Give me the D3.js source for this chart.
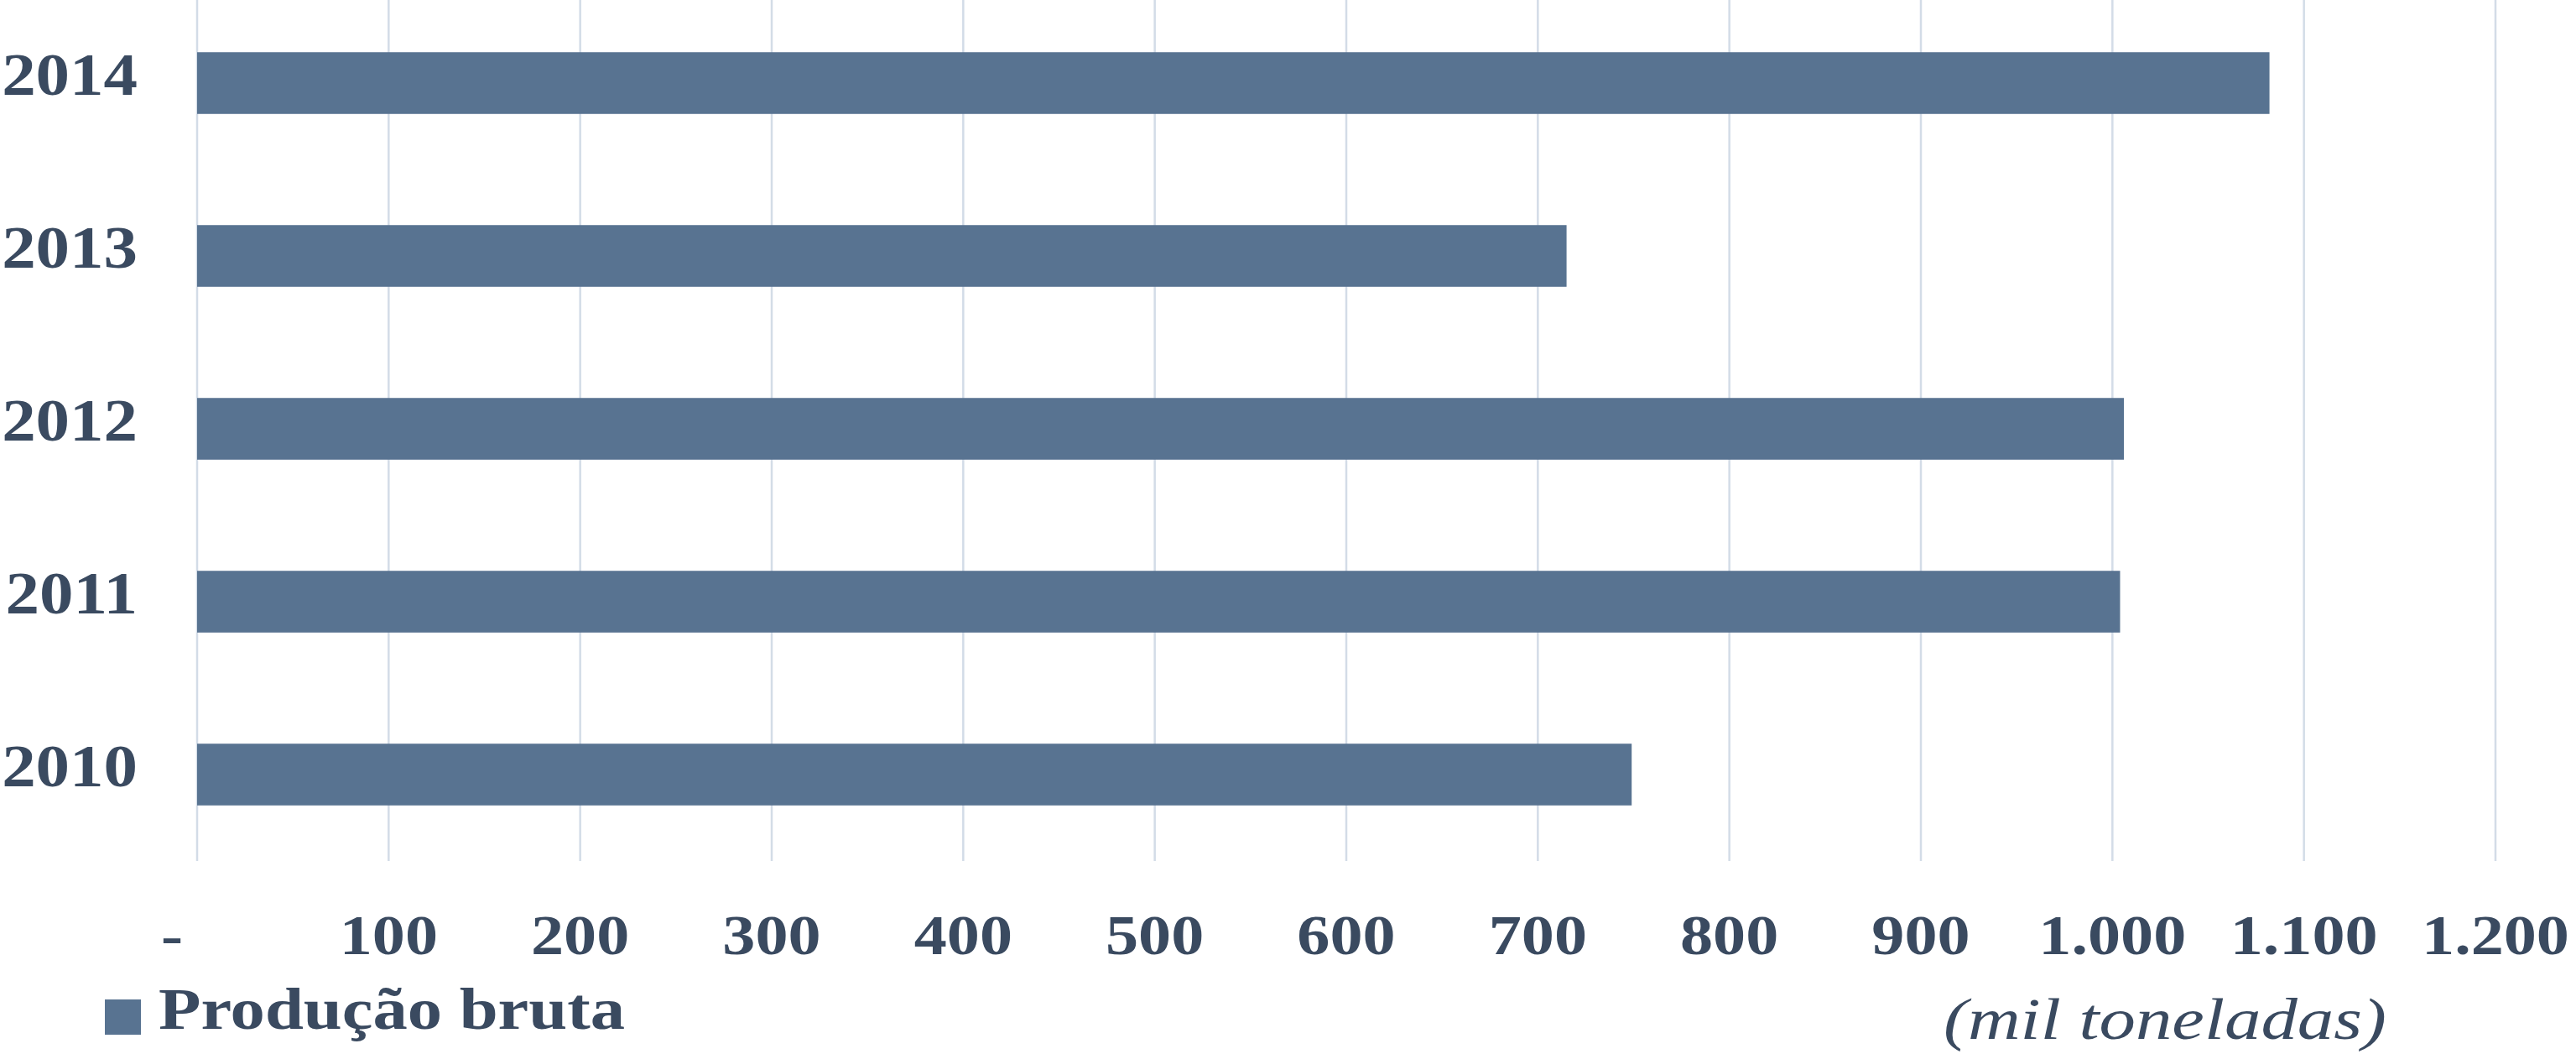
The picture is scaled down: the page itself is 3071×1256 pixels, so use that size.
<!DOCTYPE html>
<html>
<head>
<meta charset="utf-8">
<script src="https://cdn.jsdelivr.net/npm/d3@7"></script>
<style>
  html, body { margin: 0; padding: 0; background: #ffffff; }
  svg { display: block; }
</style>
</head>
<body>
<script>
// ---- data ----
const years = ["2014", "2013", "2012", "2011", "2010"];
const producaoBruta = [1082, 715, 1006, 1004, 749];
const tickValues = [0, 100, 200, 300, 400, 500, 600, 700, 800, 900, 1000, 1100, 1200];
const tickLabels = ["-", "100", "200", "300", "400", "500", "600", "700", "800", "900", "1.000", "1.100", "1.200"];
const seriesName = "Produção bruta";
const unitLabel = "(mil toneladas)";

// ---- layout ----
const W = 3071, H = 1256;
const barColor = "#587391";
const textColor = "#3a4a60";
const gridColor = "#d3dce7";
const fontFam = "'Liberation Serif', 'Times New Roman', serif";

const svg = d3.select("body").append("svg").attr("width", W).attr("height", H);

const x = d3.scaleLinear().domain([0, 1200]).range([235, 2975]);
const y = d3.scaleBand().domain(years).range([-4, 1026]).paddingInner(0.643).paddingOuter(0.3215);

// gridlines
svg.append("g").selectAll("line").data(tickValues).join("line")
  .attr("x1", d => x(d)).attr("x2", d => x(d))
  .attr("y1", 0).attr("y2", 1026)
  .attr("stroke", gridColor).attr("stroke-width", 2.5);

// bars
const rows = years.map((yr, i) => ({ year: yr, value: producaoBruta[i] }));
svg.append("g").selectAll("rect").data(rows).join("rect")
  .attr("x", x(0))
  .attr("y", d => y(d.year))
  .attr("width", d => x(d.value) - x(0))
  .attr("height", y.bandwidth())
  .attr("fill", barColor);

// year labels
svg.append("g").selectAll("text").data(years).join("text")
  .attr("transform", d => `translate(164,${y(d) + y.bandwidth() / 2 + 14}) scale(1.14,1)`)
  .attr("text-anchor", "end")
  .attr("font-family", fontFam)
  .attr("font-weight", "bold")
  .attr("font-size", 71)
  .attr("fill", textColor)
  .text(d => d);

// x tick labels
svg.append("g").selectAll("text").data(tickValues).join("text")
  .attr("transform", (d, i) => `translate(${x(d) + (i === 0 ? -30 : 0)},1137) scale(1.15,1)`)
  .attr("text-anchor", "middle")
  .attr("font-family", fontFam)
  .attr("font-weight", "bold")
  .attr("font-size", 68)
  .attr("fill", textColor)
  .text((d, i) => tickLabels[i]);

// legend
svg.append("rect").attr("x", 125).attr("y", 1191).attr("width", 43).attr("height", 42).attr("fill", barColor);
svg.append("text")
  .attr("transform", "translate(189,1226) scale(1.18,1)")
  .attr("font-family", fontFam)
  .attr("font-weight", "bold")
  .attr("font-size", 70)
  .attr("fill", textColor)
  .text(seriesName);

// unit label
svg.append("text")
  .attr("transform", "translate(2317,1238) scale(1.24,1)")
  .attr("font-family", fontFam)
  .attr("font-style", "italic")
  .attr("font-size", 70)
  .attr("fill", textColor)
  .text(unitLabel);
</script>
</body>
</html>
